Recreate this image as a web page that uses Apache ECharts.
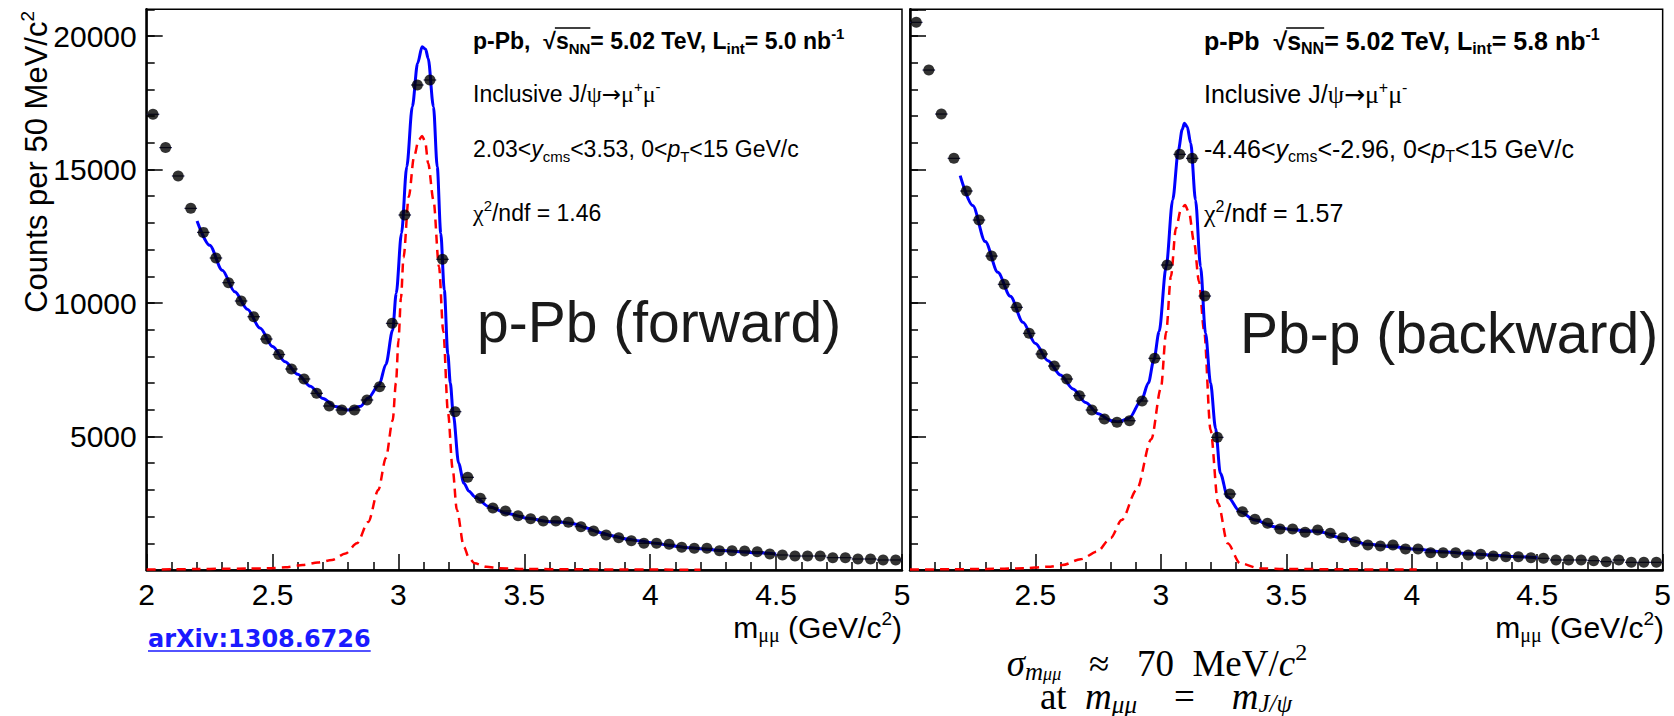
<!DOCTYPE html>
<html><head><meta charset="utf-8">
<script src="https://cdn.jsdelivr.net/npm/echarts@6/dist/echarts.min.js"></script>
<style>html,body{margin:0;padding:0;background:#fff}#c{width:1674px;height:716px}</style>
</head><body><div id="c"></div>
<script>
// ---------------- data ----------------
const massBins = [2.025,2.075,2.125,2.175,2.225,2.275,2.325,2.375,2.425,2.475,2.525,2.575,2.625,2.675,2.725,2.775,2.825,2.875,2.925,2.975,
  3.025,3.075,3.125,3.175,3.225,3.275,3.325,3.375,3.425,3.475,3.525,3.575,3.625,3.675,3.725,3.775,3.825,3.875,3.925,3.975,
  4.025,4.075,4.125,4.175,4.225,4.275,4.325,4.375,4.425,4.475,4.525,4.575,4.625,4.675,4.725,4.775,4.825,4.875,4.925,4.975];
const binHalfWidth = 0.025;
const countsForward = [17068,15820,14757,13545,12645,11685,10760,10075,9486,8651,8070,7528,7154,6617,6142,5992,5992,6367,6866,9238,
  13296,18165,18352,11637,5930,3471,2684,2320,2210,2034,1920,1835,1835,1785,1623,1461,1311,1211,1099,999,
  999,962,849,812,812,724,724,712,687,600,562,524,524,524,462,462,412,412,375,375];
const countsBackward = [20512,18725,17077,15418,14194,13108,11759,10699,9838,8864,8090,7640,7153,6528,5992,5655,5531,5591,6329,7928,
  11422,15568,15418,10261,4969,2846,2184,1898,1748,1535,1535,1411,1498,1373,1211,1061,936,899,936,786,
  786,649,649,649,562,587,524,499,499,462,437,375,375,375,350,312,375,287,287,287];
const fitMassForward = [2.2,2.25,2.3,2.35,2.4,2.45,2.5,2.55,2.6,2.65,2.7,2.75,2.8,2.85,2.878,2.923,2.95,2.977,2.991,3.012,
  3.033,3.055,3.076,3.094,3.108,3.118,3.139,3.154,3.168,3.182,3.196,3.206,3.218,3.239,3.26,3.28,3.303,3.36,3.43,3.516,
  3.6,3.65,3.7,3.75,3.8,3.85,3.9,3.96,4.02,4.09,4.16,4.222,4.29,4.355,4.42,4.5];
const fitCountsForward = [13071,12160,11230,10420,9770,9060,8370,7800,7330,6880,6420,6120,5990,6130,6430,6930,7700,8990,10360,12610,
  15100,17350,18980,19600,19500,19160,17350,15100,12610,10490,8100,7000,5800,4000,3250,2950,2745,2370,2122,1935,
  1810,1790,1720,1560,1400,1280,1170,1086,1000,900,830,774,730,687,650,600];
const sigMassForward = [2.0,2.1,2.2,2.3,2.4,2.48,2.55,2.62,2.68,2.736,2.79,2.835,2.88,2.92,2.95,2.977,2.99,3.0,3.01,3.02,
  3.041,3.062,3.08,3.094,3.106,3.118,3.139,3.161,3.178,3.197,3.215,3.232,3.26,3.28,3.303,3.35,3.4,3.5,3.7,4.0,4.2];
const sigCountsForward = [15,25,35,45,55,62,100,187,280,375,620,1000,1800,3000,4200,5600,7000,8600,10200,11700,
  13980,15480,16100,16255,16050,15230,13860,11360,8930,5870,3800,2250,870,450,250,120,62,40,25,15,10];
const fitMassBackward = [2.2,2.25,2.3,2.35,2.4,2.45,2.5,2.55,2.6,2.65,2.7,2.75,2.8,2.83,2.873,2.923,2.95,2.972,2.993,3.021,
  3.047,3.07,3.085,3.094,3.105,3.119,3.138,3.158,3.178,3.198,3.218,3.237,3.266,3.316,3.374,3.452,3.532,3.63,3.727,3.826,
  3.924,4.02,4.121,4.22,4.317,4.4,4.5];
const fitCountsBackward = [14770,13650,12300,11150,10250,9280,8480,7840,7300,6780,6270,5850,5600,5550,5680,6370,7000,7865,8930,11360,
  13860,15730,16500,16730,16600,15980,13860,11360,8864,7000,5300,3621,2745,2184,1873,1623,1498,1436,1187,962,
  874,780,687,620,562,510,460];
const sigMassBackward = [2.0,2.16,2.3,2.451,2.55,2.608,2.68,2.746,2.8,2.844,2.903,2.962,3.0,3.021,3.04,3.06,3.08,3.096,3.112,3.132,
  3.152,3.172,3.198,3.228,3.266,3.316,3.393,3.5,3.727,4.02];
const sigCountsBackward = [15,25,40,62,120,187,400,687,1200,1873,3000,4900,6800,8900,11000,12800,13500,13670,13400,12300,
  10800,8989,5243,2497,999,250,62,40,25,15];
const massRange = [2, 5];
const massStep = 0.5;
const countRange = [0, 21000];
const countStep = 5000;
const countMinorStep = 1000;

// ---------------- helpers ----------------
const SANS = "'Liberation Sans', Arial, Helvetica, sans-serif";
const SERIF = "'Liberation Serif', 'Times New Roman', serif";
const DJ = "'DejaVu Sans', sans-serif";
const zip = (a, b) => a.map((v, i) => [v, b[i]]);
const mctx = document.createElement('canvas').getContext('2d');
function tw(text, font) { mctx.font = font; return mctx.measureText(text).width; }

const G = [
  {left: 146.7, top: 9.3, width: 755.3, height: 560.7},
  {left: 910, top: 9.3, width: 754, height: 560.7}
];

function xAxisCfg(gi, showMin) {
  return {
    type: 'value', gridIndex: gi, min: massRange[0], max: massRange[1], interval: massStep,
    axisLine: {show: true, onZero: false, lineStyle: {color: '#000', width: 2.5}},
    axisTick: {show: true, inside: true, length: 16, lineStyle: {color: '#000', width: 1.5}},
    minorTick: {show: true, splitNumber: 5, length: 8, lineStyle: {color: '#000', width: 1.5}},
    splitLine: {show: false}, minorSplitLine: {show: false},
    axisLabel: {show: true, margin: 9, fontSize: 30, color: '#000', fontFamily: SANS, showMinLabel: showMin, showMaxLabel: true,
      formatter: v => String(v)}
  };
}
function yAxisMajor(gi, showLabels) {
  return {
    type: 'value', gridIndex: gi, position: 'left', offset: 0, min: countRange[0], max: countRange[1], interval: countStep,
    axisLine: {show: true, onZero: false, lineStyle: {color: '#000', width: 2.5}},
    axisTick: {show: true, inside: true, length: 16, lineStyle: {color: '#000', width: 1.5}},
    splitLine: {show: false},
    axisLabel: {show: showLabels, margin: 10, fontSize: 30, color: '#000', fontFamily: SANS, showMinLabel: false, showMaxLabel: false,
      formatter: v => String(v)}
  };
}
function yAxisMinor(gi) {
  return {
    type: 'value', gridIndex: gi, position: 'left', offset: 0, min: countRange[0], max: countRange[1], interval: countMinorStep,
    axisLine: {show: false},
    axisTick: {show: true, inside: true, length: 8, lineStyle: {color: '#000', width: 1.5}},
    splitLine: {show: false}, axisLabel: {show: false}
  };
}
function seriesFor(gi, counts, fitM, fitC, sigM, sigC) {
  const yi = gi * 2;
  return [
    {type: 'line', xAxisIndex: gi, yAxisIndex: yi, data: zip(sigM, sigC), showSymbol: false, smooth: 0.3, smoothMonotone: 'x',
      lineStyle: {color: '#ff0000', width: 2.5, type: [9, 6]}, z: 2, silent: true},
    {type: 'line', xAxisIndex: gi, yAxisIndex: yi, data: zip(fitM, fitC), showSymbol: false, smooth: 0.3, smoothMonotone: 'x',
      lineStyle: {color: '#0000ff', width: 3}, z: 3, silent: true},
    {type: 'custom', xAxisIndex: gi, yAxisIndex: yi, data: zip(massBins, counts), z: 4, silent: true,
      renderItem(params, api) {
        const a = api.coord([api.value(0) - binHalfWidth, api.value(1)]);
        const b = api.coord([api.value(0) + binHalfWidth, api.value(1)]);
        return {type: 'line', shape: {x1: a[0], y1: a[1], x2: b[0], y2: b[1]}, style: {stroke: '#202060', lineWidth: 1.2}};
      }},
    {type: 'scatter', xAxisIndex: gi, yAxisIndex: yi, data: zip(massBins, counts), symbol: 'circle', symbolSize: 11,
      itemStyle: {color: '#000'}, z: 5, silent: true}
  ];
}

// rich styles
function makeRich(F, FS) {
  return {
    n: {fontFamily: SANS, fontSize: F, lineHeight: 30, color: '#000'},
    g: {fontFamily: SERIF, fontSize: F + 1, lineHeight: 30, color: '#000'},
    ar: {fontFamily: DJ, fontSize: F, lineHeight: 30, color: '#000'},
    b: {fontFamily: SANS, fontSize: F, lineHeight: 30, color: '#000', fontWeight: 'bold'},
    i: {fontFamily: SANS, fontSize: F, lineHeight: 30, color: '#000', fontStyle: 'italic'},
    sub: {fontFamily: SANS, fontSize: FS, lineHeight: 8, color: '#000', verticalAlign: 'bottom'},
    bsub: {fontFamily: SANS, fontSize: FS, lineHeight: 8, color: '#000', fontWeight: 'bold', verticalAlign: 'bottom'},
    sup: {fontFamily: SANS, fontSize: FS, lineHeight: 14, color: '#000', verticalAlign: 'top'},
    bsup: {fontFamily: SANS, fontSize: FS, lineHeight: 14, color: '#000', fontWeight: 'bold', verticalAlign: 'top'}
  };
}
const richAxis = {
  t: {fontFamily: SANS, fontSize: 30, lineHeight: 36, color: '#000'},
  ty: {fontFamily: SANS, fontSize: 31, lineHeight: 36, color: '#000'},
  tsub: {fontFamily: SERIF, fontSize: 20, lineHeight: 8, color: '#000', verticalAlign: 'bottom'},
  tsup: {fontFamily: SANS, fontSize: 19, lineHeight: 14, color: '#000', verticalAlign: 'top'}
};
function txt(x, y, text, rich, align) {
  return {type: 'text', x: x, y: y, silent: true,
    style: {text: text, rich: rich, align: align || 'left', verticalAlign: 'middle'}};
}

const panelTexts = [
  {x0: 473, F: 23, FS: 15, header: '{b|p-Pb,  √}{b|s}{bsub|NN}{b|= 5.02 TeV, L}{bsub|int}{b|= 5.0 nb}{bsup|-1}', pre: 'p-Pb,  √',
   range: '{n|2.03<}{i|y}{sub|cms}{n|<3.53, 0<}{i|p}{sub|T}{n|<15 GeV/c}', chi: '1.46',
   big: 'p-Pb (forward)', bigX: 477, bigY: 322},
  {x0: 1204, F: 25, FS: 16, header: '{b|p-Pb  √}{b|s}{bsub|NN}{b|= 5.02 TeV, L}{bsub|int}{b|= 5.8 nb}{bsup|-1}', pre: 'p-Pb  √',
   range: '{n|-4.46<}{i|y}{sub|cms}{n|<-2.96, 0<}{i|p}{sub|T}{n|<15 GeV/c}', chi: '1.57',
   big: 'Pb-p (backward)', bigX: 1240, bigY: 333}
];

const graphics = [];
panelTexts.forEach((p, k) => {
  const rich = makeRich(p.F, p.FS);
  graphics.push(txt(p.x0, 41, p.header, rich));
  // overline of the square root
  const bf = 'bold ' + p.F + 'px ' + SANS;
  const x1 = p.x0 + tw(p.pre, bf) - 1;
  const x2 = p.x0 + tw(p.pre + 's', bf) + tw('NN', 'bold ' + p.FS + 'px ' + SANS);
  graphics.push({type: 'line', silent: true, shape: {x1: x1, y1: 28, x2: x2, y2: 28}, style: {stroke: '#000', lineWidth: 1.5}});
  graphics.push(txt(p.x0, 94, '{n|Inclusive J/}{g|ψ}{ar|→}{g|μ}{sup|+}{g|μ}{sup|-}', rich));
  graphics.push(txt(p.x0, 149, p.range, rich));
  graphics.push(txt(p.x0, 213, '{g|χ}{sup|2}{n|/ndf = ' + p.chi + '}', rich));
  graphics.push({type: 'text', x: p.bigX, y: p.bigY, silent: true,
    style: {text: p.big, fontFamily: SANS, fontSize: 57, fill: '#1a1a1a', align: 'left', verticalAlign: 'middle'}});
  const gx = G[k].left + G[k].width;
  graphics.push(txt(gx, 627, '{t|m}{tsub|μμ}{t| (GeV/c}{tsup|2}{t|)}', richAxis, 'right'));
});
// y axis title
graphics.push({type: 'text', x: 36, y: 11, rotation: Math.PI / 2, silent: true,
  style: {text: '{ty|Counts per 50 MeV/c}{tsup|2}', rich: richAxis, align: 'right', verticalAlign: 'middle'}});
// arXiv link
const arxivFont = 'bold 24px "DejaVu Sans"';
graphics.push({type: 'text', x: 148, y: 639, silent: true,
  style: {text: 'arXiv:1308.6726', font: arxivFont, fill: '#1a1aff', align: 'left', verticalAlign: 'middle'}});
graphics.push({type: 'line', silent: true, shape: {x1: 148, y1: 651, x2: 148 + tw('arXiv:1308.6726', arxivFont), y2: 651},
  style: {stroke: '#1a1aff', lineWidth: 1.5}});

// resolution note: laid out piece by piece (math-style sub/superscripts)
const MR = '37px ' + SERIF, MI = 'italic 37px ' + SERIF;
const SI = 'italic 25px ' + SERIF, SSI = 'italic 18px ' + SERIF, SUP = '24px ' + SERIF;
function mathLine(cx, y, pieces) {
  const widths = pieces.map(p => tw(p[0], p[1]));
  let x = cx - widths.reduce((s, w) => s + w, 0) / 2;
  pieces.forEach((p, i) => {
    graphics.push({type: 'text', x: x, y: y + p[2], silent: true,
      style: {text: p[0], font: p[1], fill: '#000', align: 'left', verticalAlign: 'middle'}});
    x += widths[i];
  });
}
mathLine(1157, 663, [['σ', MI, 0], ['m', SI, 8], ['μμ', SSI, 11], ['   ≈   70  MeV/', MR, 0], ['c', MI, 0], ['2', SUP, -11]]);
mathLine(1166, 696, [['at  ', MR, 0], ['m', MI, 0], ['μμ', SI, 8], ['    =    ', MR, 0], ['m', MI, 0], ['J/ψ', SI, 7]]);

const chart = echarts.init(document.getElementById('c'), null, {renderer: 'svg'});
chart.setOption({
  backgroundColor: '#fff',
  animation: false,
  grid: G.map(g => Object.assign({show: true, borderColor: '#000', borderWidth: 1.5, backgroundColor: 'transparent', containLabel: false}, g)),
  xAxis: [xAxisCfg(0, true), xAxisCfg(1, false)],
  yAxis: [yAxisMajor(0, true), yAxisMinor(0), yAxisMajor(1, false), yAxisMinor(1)],
  series: [].concat(
    seriesFor(0, countsForward, fitMassForward, fitCountsForward, sigMassForward, sigCountsForward),
    seriesFor(1, countsBackward, fitMassBackward, fitCountsBackward, sigMassBackward, sigCountsBackward)
  ),
  graphic: graphics
});
</script>
</body></html>
